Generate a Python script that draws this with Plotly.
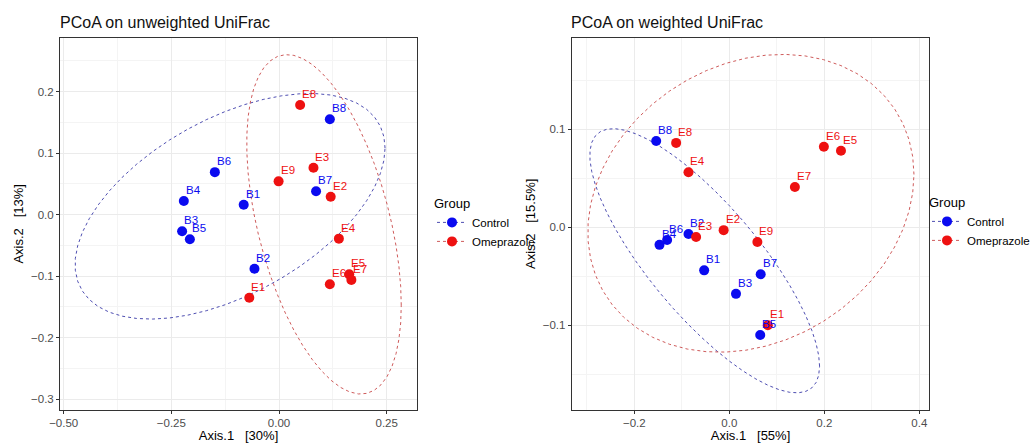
import numpy as np
import plotly.graph_objects as go

# ---------------- data ----------------
# Left panel: PCoA on unweighted UniFrac
uw_control_labels = ["B1", "B2", "B3", "B4", "B5", "B6", "B7", "B8"]
uw_control_x = [-0.082, -0.057, -0.225, -0.221, -0.207, -0.149, 0.086, 0.118]
uw_control_y = [0.016, -0.088, -0.027, 0.022, -0.040, 0.069, 0.038, 0.155]
uw_omep_labels = ["E1", "E2", "E3", "E4", "E5", "E6", "E7", "E8", "E9"]
uw_omep_x = [-0.069, 0.120, 0.080, 0.139, 0.163, 0.118, 0.168, 0.049, -0.001]
uw_omep_y = [-0.135, 0.029, 0.076, -0.039, -0.097, -0.113, -0.106, 0.178, 0.054]

# Right panel: PCoA on weighted UniFrac
w_control_labels = ["B1", "B2", "B3", "B4", "B5", "B6", "B7", "B8"]
w_control_x = [-0.053, -0.086, 0.014, -0.147, 0.065, -0.131, 0.066, -0.154]
w_control_y = [-0.044, -0.007, -0.068, -0.018, -0.110, -0.013, -0.048, 0.088]
w_omep_labels = ["E1", "E2", "E3", "E4", "E5", "E6", "E7", "E8", "E9"]
w_omep_x = [0.081, -0.012, -0.070, -0.086, 0.235, 0.199, 0.138, -0.112, 0.059]
w_omep_y = [-0.100, -0.003, -0.010, 0.056, 0.078, 0.082, 0.041, 0.086, -0.015]

groups = ["Control", "Omeprazole"]

# tick labels
uw_xticks = [-0.5, -0.25, 0.0, 0.25]
uw_xticktext = ["\u22120.50", "\u22120.25", "0.00", "0.25"]
uw_yticks = [-0.3, -0.2, -0.1, 0.0, 0.1, 0.2]
uw_yticktext = ["\u22120.3", "\u22120.2", "\u22120.1", "0.0", "0.1", "0.2"]
w_xticks = [-0.2, 0.0, 0.2, 0.4]
w_xticktext = ["\u22120.2", "0.0", "0.2", "0.4"]
w_yticks = [-0.1, 0.0, 0.1]
w_yticktext = ["\u22120.1", "0.0", "0.1"]

# ---------------- styles ----------------
PT_COL = {"Control": "#0a0af0", "Omeprazole": "#ee1111"}
EL_COL = {"Control": "#3a3aa8", "Omeprazole": "#c84848"}
FONT = "Liberation Sans, Arial, sans-serif"


def cov_trob(x, nu=5, maxit=25, tol=0.01):
    """Port of MASS::cov.trob (as used by ggplot2 stat_ellipse)."""
    n, p = x.shape
    wt = np.ones(n)
    loc = x.mean(axis=0)
    w = np.sqrt(wt)
    X = x - loc
    for _ in range(maxit):
        w0 = w
        X = x - loc
        _, d, vt = np.linalg.svd(np.sqrt(w / w.sum())[:, None] * X, full_matrices=False)
        wX = X @ vt.T @ np.diag(1.0 / d)
        Q = (wX ** 2).sum(axis=1)
        w = (wt * (nu + p)) / (nu + Q)
        loc = (w[:, None] * x).sum(axis=0) / w.sum()
        if np.all(np.abs(w - w0) < tol):
            break
    sw = np.sqrt(w)[:, None] * X
    cov = sw.T @ sw / wt.sum()
    return cov, loc


def ellipse(xs, ys, level=0.95, segments=51):
    data = np.column_stack([xs, ys]).astype(float)
    n = data.shape[0]
    cov, center = cov_trob(data)
    dfd = n - 1
    fq = dfd / 2.0 * ((1 - level) ** (-2.0 / dfd) - 1)  # qf(level, 2, dfd)
    radius = np.sqrt(2 * fq)
    L = np.linalg.cholesky(cov)
    ang = np.arange(segments + 1) * 2 * np.pi / segments
    circ = np.column_stack([np.cos(ang), np.sin(ang)])
    e = center + radius * (circ @ L.T)
    return e[:, 0], e[:, 1]


fig = go.Figure()
annotations = []

panels = [
    ("x", "y", "legend",
     {"Control": (uw_control_x, uw_control_y, uw_control_labels),
      "Omeprazole": (uw_omep_x, uw_omep_y, uw_omep_labels)}),
    ("x2", "y2", "legend2",
     {"Control": (w_control_x, w_control_y, w_control_labels),
      "Omeprazole": (w_omep_x, w_omep_y, w_omep_labels)}),
]

for xa, ya, leg, data in panels:
    for g in groups:
        xs, ys, labs = data[g]
        ex, ey = ellipse(xs, ys)
        fig.add_trace(go.Scatter(
            x=ex, y=ey, mode="lines", xaxis=xa, yaxis=ya,
            line=dict(color=EL_COL[g], width=0.9, dash="3px,3px"),
            showlegend=False, hoverinfo="skip"))
    for g in groups:
        xs, ys, labs = data[g]
        fig.add_trace(go.Scatter(
            x=xs, y=ys, mode="markers", text=labs,
            marker=dict(color=PT_COL[g], size=10),
            xaxis=xa, yaxis=ya, showlegend=False, name=g))
        for px, py, lab in zip(xs, ys, labs):
            annotations.append(dict(
                x=px, y=py, xref=xa, yref=ya, text=lab, showarrow=False,
                xanchor="left", yanchor="middle", xshift=0, yshift=11,
                font=dict(color=PT_COL[g], size=11.5, family=FONT)))
    # legend keys (point + dashed path, like ggplot)
    for g in groups:
        fig.add_trace(go.Scatter(
            x=[None], y=[None], mode="lines+markers", name=g,
            marker=dict(color=PT_COL[g], size=10),
            line=dict(color=EL_COL[g], width=0.9, dash="3px,3px"),
            xaxis=xa, yaxis=ya, legend=leg, showlegend=True))

axis_common = dict(
    showline=True, mirror=True, linecolor="#333333", linewidth=1,
    ticks="outside", ticklen=3, tickcolor="#333333", tickwidth=1,
    showgrid=True, gridcolor="#ebebeb", gridwidth=1,
    zeroline=False, automargin=False,
    tickfont=dict(size=11.5, color="#4d4d4d", family=FONT),
    title_font=dict(size=13, color="#000000", family=FONT),
    tickmode="array",
)

ydom = [0.0755, 0.914]

annotations += [
    dict(text="PCoA on unweighted UniFrac", xref="paper", yref="paper",
         x=58 / 1035, y=1 - 22 / 443, xanchor="left", yanchor="middle",
         showarrow=False, font=dict(size=16, color="#111", family=FONT)),
    dict(text="PCoA on weighted UniFrac", xref="paper", yref="paper",
         x=569 / 1035, y=1 - 22 / 443, xanchor="left", yanchor="middle",
         showarrow=False, font=dict(size=16, color="#111", family=FONT)),
]

fig.update_layout(
    width=1035, height=443,
    margin=dict(l=0, r=0, t=0, b=0, autoexpand=False),
    paper_bgcolor="white", plot_bgcolor="white",
    font=dict(family=FONT),
    xaxis=dict(domain=[0.0580, 0.4029], range=[-0.5085, 0.3204],
               tickvals=uw_xticks, ticktext=uw_xticktext,
               minor=dict(tickvals=[-0.375, -0.125, 0.125], showgrid=True,
                          gridcolor="#f4f4f4", gridwidth=0.6, ticklen=0),
               title=dict(text="Axis.1   [30%]", standoff=2), anchor="y",
               **axis_common),
    yaxis=dict(domain=ydom, range=[-0.3166, 0.2867],
               tickvals=uw_yticks, ticktext=uw_yticktext,
               minor=dict(tickvals=[-0.25, -0.15, -0.05, 0.05, 0.15, 0.25], showgrid=True,
                          gridcolor="#f4f4f4", gridwidth=0.6, ticklen=0),
               title=dict(text="Axis.2   [13%]", standoff=4), anchor="x",
               **axis_common),
    xaxis2=dict(domain=[0.5524, 0.8979], range=[-0.3318, 0.421],
                tickvals=w_xticks, ticktext=w_xticktext,
                minor=dict(tickvals=[-0.3, -0.1, 0.1, 0.3], showgrid=True,
                           gridcolor="#f4f4f4", gridwidth=0.6, ticklen=0),
                title=dict(text="Axis.1   [55%]", standoff=2), anchor="y2",
                **axis_common),
    yaxis2=dict(domain=ydom, range=[-0.186, 0.1929],
                tickvals=w_yticks, ticktext=w_yticktext,
                minor=dict(tickvals=[-0.15, -0.05, 0.05, 0.15], showgrid=True,
                           gridcolor="#f4f4f4", gridwidth=0.6, ticklen=0),
                title=dict(text="Axis.2   [15.5%]", standoff=4), anchor="x2",
                **axis_common),
    legend=dict(x=432 / 1035, y=1 - 191 / 443, xanchor="left", yanchor="top",
                title=dict(text="Group", font=dict(size=13, color="#000", family=FONT)),
                font=dict(size=11.5, color="#000", family=FONT),
                bgcolor="rgba(0,0,0,0)", itemwidth=30, tracegroupgap=0),
    legend2=dict(x=1.0, y=1 - 190 / 443, xanchor="right", yanchor="top",
                 title=dict(text="Group", font=dict(size=13, color="#000", family=FONT)),
                 font=dict(size=11.5, color="#000", family=FONT),
                 bgcolor="rgba(0,0,0,0)", itemwidth=30, tracegroupgap=0),
    annotations=annotations,
)

fig.write_html("out.html")
